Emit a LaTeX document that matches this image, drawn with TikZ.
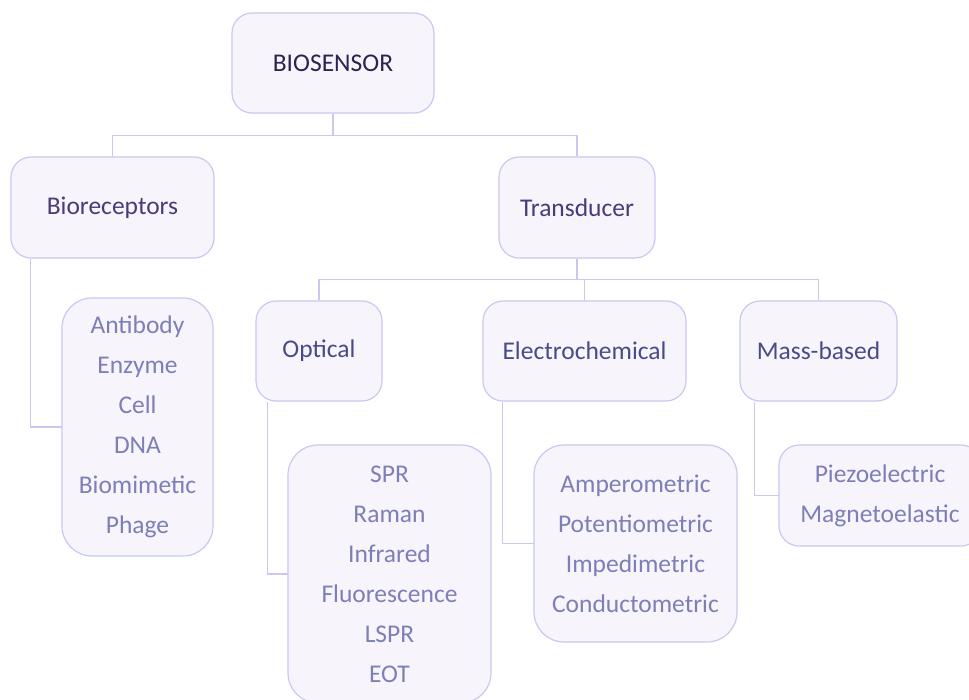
\documentclass[tikz,border=0pt]{standalone}
\usepackage{fontspec}
\setmainfont{Carlito}
\usetikzlibrary{positioning}
\usepackage{xcolor}
\definecolor{boxline}{HTML}{C9C8F0}
\definecolor{boxfill}{HTML}{F7F4FC}
\definecolor{rootink}{HTML}{2B2350}
\definecolor{catink}{HTML}{4B3A78}
\definecolor{subink}{HTML}{4A4A88}
\definecolor{leafink}{HTML}{7E7EB8}

\begin{document}
\begin{tikzpicture}[
      x=1pt, y=1pt,
      every node/.style = {rectangle, rounded corners=20pt, draw=boxline, fill=boxfill,
                           line width=1.2pt, inner sep=0pt, align=center,
                           font=\fontsize{25.5}{40}\selectfont},
      root/.style       = {text=rootink},
      cat/.style        = {text=catink},
      sub/.style        = {text=subink},
      leaf/.style       = {text=leafink, rounded corners=30pt},
      link/.style       = {draw=boxline, line width=1.4pt}
    ]
    \useasboundingbox (0,0) rectangle (969,-699);

    \node[root, minimum width=202, minimum height=100] (bio) at (333,-63) {BIOSENSOR};
    \node[cat, minimum width=203, minimum height=101] (rec) at (112.5,-207.5) {Bioreceptors};
    \node[cat, minimum width=156, minimum height=101] (trans) at (577,-207.5) {Transducer};
    \node[sub, minimum width=126, minimum height=100] (opt) at (319,-351) {Optical};
    \node[sub, minimum width=203, minimum height=100] (elec) at (584.5,-351) {Electrochemical};
    \node[sub, minimum width=157, minimum height=100] (mass) at (818.5,-351) {Mass-based};

    % connectors
    \draw[link] (bio.south) -- ++(0,-22) coordinate (j1);
    \draw[link] (rec.north) |- (j1) -| (trans.north);
    \draw[link] (trans.south) -- ++(0,-21) coordinate (j2);
    \draw[link] (opt.north) |- (j2) -| (mass.north);
    \draw[link] (elec.north) -- (elec.north |- j2);
    \draw[link] (rec.south west) ++(20,0) |- (137.5,-427);
    \draw[link] (opt.south west) ++(12,0) |- (389.5,-574);
    \draw[link] (elec.south west) ++(20,0) |- (635.5,-543.5);
    \draw[link] (mass.south west) ++(15,0) |- (880,-495.5);

    \node[leaf, minimum width=151, minimum height=258] (recl) at (137.5,-427)
      {Antibody\\Enzyme\\Cell\\DNA\\Biomimetic\\Phage};
    \node[leaf, minimum width=203, minimum height=258] (optl) at (389.5,-574)
      {SPR\\Raman\\Infrared\\Fluorescence\\LSPR\\EOT};
    \node[leaf, minimum width=203, minimum height=197] (elecl) at (635.5,-543.5)
      {Amperometric\\Potentiometric\\Impedimetric\\Conductometric};
    \node[leaf, minimum width=202, minimum height=101, rounded corners=20pt] (massl) at (880,-495.5)
      {Piezoelectric\\Magnetoelastic};
  \end{tikzpicture}
\end{document}
